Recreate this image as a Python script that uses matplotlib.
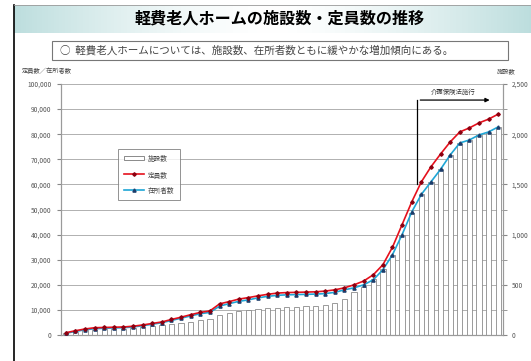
import numpy as np
import matplotlib.pyplot as plt
from matplotlib.lines import Line2D
from matplotlib.patches import Patch, Rectangle
from matplotlib.ticker import FuncFormatter, MultipleLocator

plt.rcParams['font.family'] = ['Noto Sans CJK JP', 'DejaVu Sans']

# year labels: 昭38 .. 昭63, 平元, 平2 .. 平20
years = ['昭%d' % y for y in range(38, 64)] + ['平元'] + ['平%d' % y for y in range(2, 21)]

# 施設数 (right axis)
facilities = [20, 30, 45, 50, 55, 58, 62, 70, 80, 90,
              100, 110, 120, 130, 145, 160, 200, 220, 235, 245,
              255, 265, 272, 278, 282, 285, 290, 300, 320, 360,
              430, 480, 560, 660, 800, 1000, 1220, 1400, 1520, 1650,
              1790, 1910, 1940, 1990, 2020, 2070]

# 定員数 (left axis)
capacity = [900, 1700, 2400, 2900, 3000, 3100, 3200, 3500, 4000, 4600,
            5200, 6200, 7100, 8100, 9000, 9600, 12400, 13300, 14300, 14900,
            15600, 16200, 16700, 16900, 17000, 17100, 17200, 17500, 18000, 18800,
            20000, 21500, 24000, 28000, 35000, 44000, 53000, 61000, 67000, 72100,
            76900, 80900, 82500, 84500, 86000, 88000]

# 在所者数 (left axis)
residents = [700, 1400, 2100, 2500, 2700, 2800, 2900, 3200, 3700, 4300,
             4900, 5800, 6700, 7600, 8500, 9000, 11500, 12500, 13400, 14000,
             14800, 15400, 15800, 16000, 16100, 16200, 16300, 16500, 17000, 18000,
             18800, 20000, 22000, 26000, 32000, 40000, 49000, 56000, 61000, 66000,
             71700, 76500, 77700, 79700, 80900, 82900]

W, H = 531, 361
fig = plt.figure(figsize=(W / 100, H / 100), dpi=100)

# title band with soft gradient
band = fig.add_axes([14 / W, 1 - 33 / H, 1 - 14 / W, 28 / H])
g = np.abs(np.linspace(-1, 1, 256)) ** 1.5
img = np.ones((1, 256, 3))
teal = np.array([0.74, 0.87, 0.87])
img[0] = 1 - g[:, None] * (1 - teal)
band.imshow(img, aspect='auto', extent=[0, 1, 0, 1])
band.axis('off')

# outer frame
fig.add_artist(Line2D([14 / W, 14 / W], [0, 1 - 5 / H], color='black', lw=1.2))
fig.add_artist(Line2D([14 / W, 1], [1 - 5 / H, 1 - 5 / H], color='#999999', lw=0.6))

fig.text(280 / W, 1 - 18 / H, '軽費老人ホームの施設数・定員数の推移',
         ha='center', va='center', fontsize=11.6, fontweight='bold')

fig.add_artist(Rectangle((52 / W, 1 - 60 / H), 456 / W, 19 / H, transform=fig.transFigure,
                         fill=False, ec='#777777', lw=0.8))
fig.text(60 / W, 1 - 50.5 / H,
         '○  軽費老人ホームについては、施設数、在所者数ともに緩やかな増加傾向にある。',
         ha='left', va='center', fontsize=7.6, color='#444444')

fig.text(22 / W, 1 - 71 / H, '定員数／在所者数', fontsize=4.5, color='#444444', va='center')
fig.text(497 / W, 1 - 71 / H, '施設数', fontsize=4.5, color='#444444', va='center')

x = np.arange(len(years))

ax2 = fig.add_axes([61 / W, 1 - 335 / H, 442 / W, 251 / H])
ax = ax2.twinx()
ax.set_zorder(ax2.get_zorder() + 1)
ax.patch.set_visible(False)

# bars on right axis
ax2.bar(x, facilities, width=0.55, color='white', edgecolor='#8a8a8a', lw=0.6, zorder=2)
ax2.set_ylim(0, 2500)
ax2.set_xlim(-0.5, len(years) - 0.5)
ax2.set_axisbelow(True)
ax2.yaxis.tick_right()
ax2.set_yticks(np.arange(0, 2501, 500))
ax2.set_yticks(np.arange(0, 2501, 250), minor=True)
ax2.grid(axis='y', which='both', color='#b0b0b0', lw=0.7)
ax2.yaxis.set_major_formatter(FuncFormatter(lambda v, p: '{:,.0f}'.format(v)))
ax2.tick_params(axis='y', which='both', right=True, left=False, labelright=True, labelleft=False,
                labelsize=4.8, labelcolor='#555555', color='#888888', length=3, pad=3)
ax2.tick_params(axis='x', bottom=False, labelbottom=False)

# lines on left axis
ax.plot(x, capacity, color='#e5101c', lw=1.2, marker='D', ms=1.8,
        mfc='#8b0010', mec='#8b0010', zorder=4)
ax.plot(x, residents, color='#1ea6d6', lw=1.2, marker='^', ms=2.3,
        mfc='#1c3d6b', mec='#1c3d6b', zorder=3)
ax.set_ylim(0, 100000)
ax.yaxis.tick_left()
ax.set_yticks(np.arange(0, 100001, 10000))
ax.yaxis.set_major_formatter(FuncFormatter(lambda v, p: '{:,.0f}'.format(v)))
ax.tick_params(axis='y', left=True, right=False, labelleft=True, labelright=False,
               labelsize=4.8, labelcolor='#555555', color='#888888', length=3, pad=4)
ax.set_xticks(x)
ax.set_xticklabels(years, rotation=90, fontsize=4.3, color='#555555')
ax.tick_params(axis='x', length=0, pad=2)

for a in (ax, ax2):
    a.spines['top'].set_visible(False)
    for s in ('left', 'right', 'bottom'):
        a.spines[s].set_color('#9a9a9a')
        a.spines[s].set_linewidth(0.8)

# 介護保険法施行 marker
ax.plot([36.6, 36.6], [60000, 93600], color='black', lw=0.9, zorder=5)
ax.annotate('', xy=(44.4, 93600), xytext=(36.6, 93600),
            arrowprops=dict(arrowstyle='-|>', color='black', lw=0.9, mutation_scale=6), zorder=5)
ax.text(40.3, 96700, '介護保険法施行', ha='center', va='center', fontsize=4.6, color='#333333')

handles = [Patch(facecolor='white', edgecolor='#777777', lw=0.6),
           Line2D([], [], color='#e5101c', lw=1.2, marker='D', ms=1.8, mfc='#8b0010', mec='#8b0010'),
           Line2D([], [], color='#1ea6d6', lw=1.2, marker='^', ms=2.3, mfc='#1c3d6b', mec='#1c3d6b')]
leg = ax.legend(handles, ['施設数', '定員数', '在所者数'], loc='upper left',
                bbox_to_anchor=(115 / W, 1 - 146 / H), bbox_transform=fig.transFigure,
                fontsize=4.8, frameon=True, fancybox=False, handlelength=3.0,
                handleheight=0.6, labelspacing=1.2, borderpad=0.8, handletextpad=0.6)
leg.get_frame().set_edgecolor('#777777')
leg.get_frame().set_linewidth(0.7)
for t in leg.get_texts():
    t.set_color('#444444')

fig.savefig('out.png', dpi=100)
